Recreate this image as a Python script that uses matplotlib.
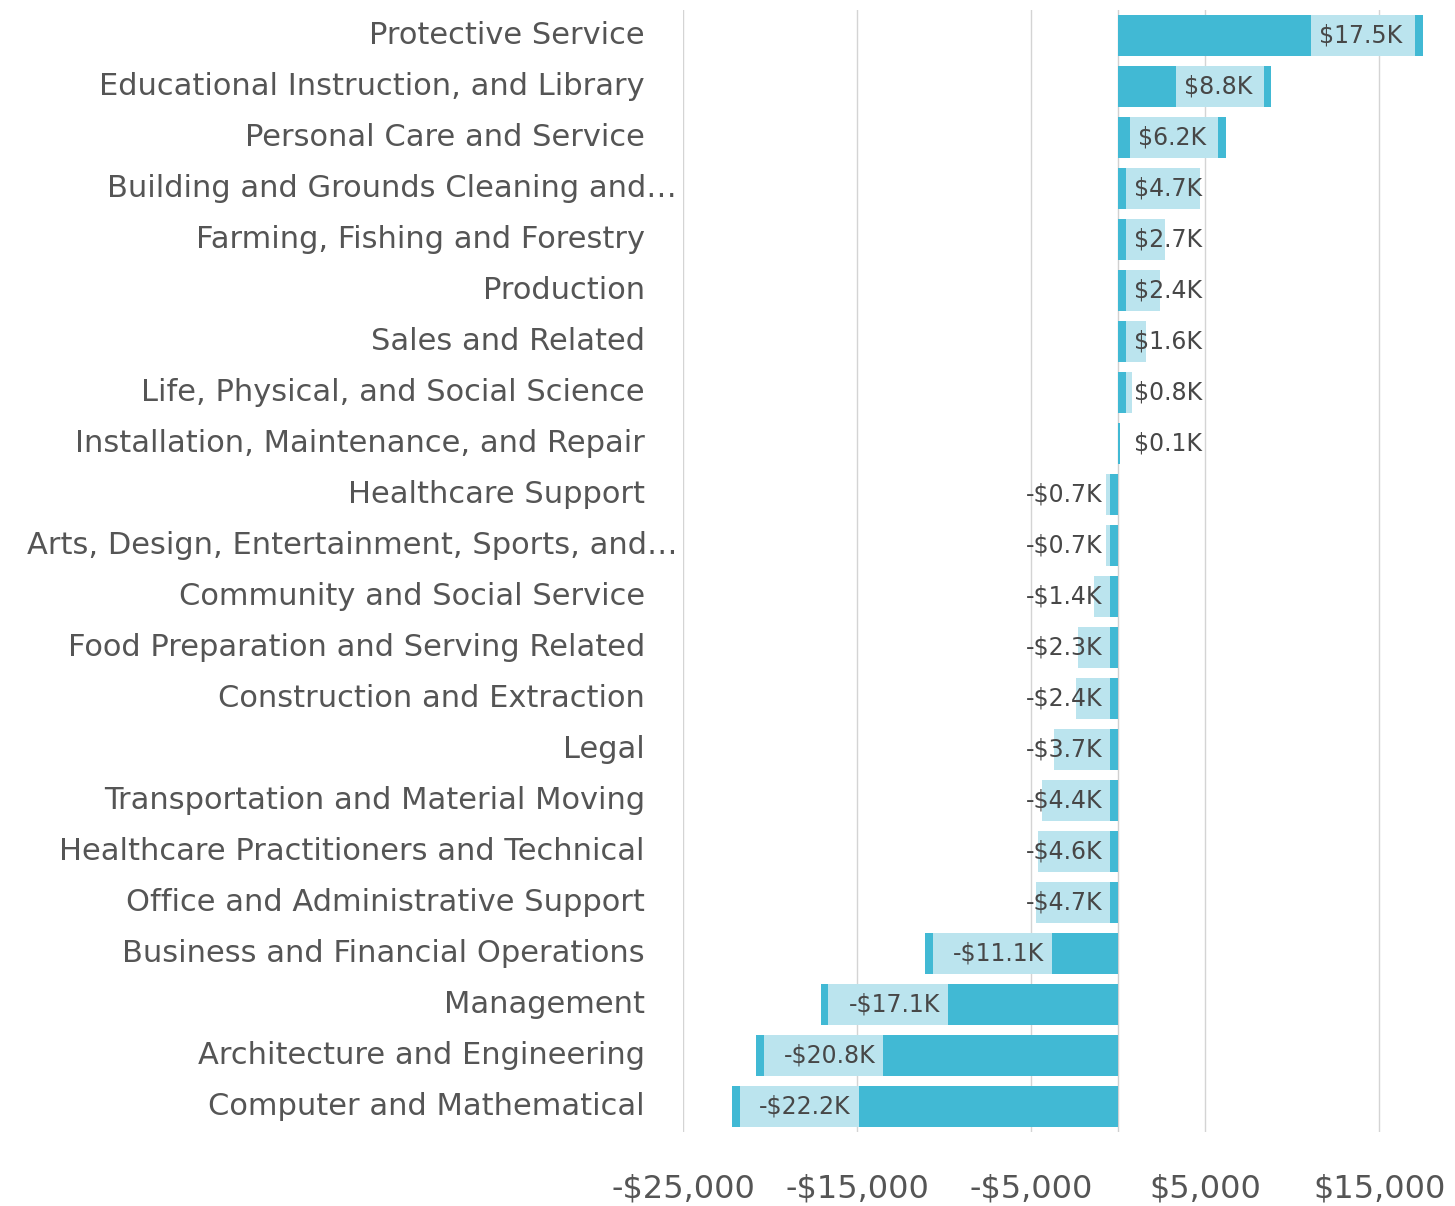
import matplotlib
matplotlib.use("Agg")
import matplotlib.pyplot as plt

plt.rcParams['font.family'] = ['DejaVu Sans']

categories = [
    "Protective Service",
    "Educational Instruction, and Library",
    "Personal Care and Service",
    "Building and Grounds Cleaning and\u2026",
    "Farming, Fishing and Forestry",
    "Production",
    "Sales and Related",
    "Life, Physical, and Social Science",
    "Installation, Maintenance, and Repair",
    "Healthcare Support",
    "Arts, Design, Entertainment, Sports, and\u2026",
    "Community and Social Service",
    "Food Preparation and Serving Related",
    "Construction and Extraction",
    "Legal",
    "Transportation and Material Moving",
    "Healthcare Practitioners and Technical",
    "Office and Administrative Support",
    "Business and Financial Operations",
    "Management",
    "Architecture and Engineering",
    "Computer and Mathematical",
]
values = [17500, 8800, 6200, 4700, 2700, 2400, 1600, 800, 100,
          -700, -700, -1400, -2300, -2400, -3700, -4400, -4600, -4700,
          -11100, -17100, -20800, -22200]
tick_values = [-25000, -15000, -5000, 5000, 15000]
tick_labels = ["-$25,000", "-$15,000", "-$5,000", "$5,000", "$15,000"]

DARK = "#41B9D4"
LIGHT = "#BBE4EE"
TXT = "#555555"
VTXT = "#474747"

fig = plt.figure(figsize=(14.55, 12.06), dpi=100)
ax = fig.add_axes([683/1455, 1 - 1132/1206, (1449-683)/1455, (1132-10)/1206])

n = len(categories)
ys = list(range(n))
ax.set_ylim(n - 0.5, -0.5)
ax.set_xlim(-25000, 19000)

for x in tick_values:
    ax.axvline(x, color="#d4d4d4", lw=1.0, zorder=0)
ax.axvline(0, color="#d0d0d0", lw=1.0, zorder=0)

cap = 450
strip = 450
pad = 450
h = 0.79

for y, v, cat in zip(ys, values, categories):
    s = 1 if v >= 0 else -1
    a = abs(v)
    lab = ("-" if v < 0 else "") + "$%.1fK" % (a / 1000)
    W = 550 + 900 * len(lab)
    ax.barh(y, v, height=h, color=DARK, edgecolor="none", zorder=2)
    if a - cap - W >= strip:
        b0, b1 = a - cap - W, a - cap
    else:
        b0, b1 = min(strip, a), a
    if b1 > b0:
        ax.barh(y, s * (b1 - b0), left=s * b0, height=h, color=LIGHT,
                edgecolor="none", zorder=3)
    lx = max(b0, strip) + pad
    ax.text(s * lx, y, lab, ha="left" if s > 0 else "right", va="center",
            fontsize=17, color=VTXT, zorder=4)
    off = -4.3 if cat.endswith("\u2026") else -27.4
    ax.annotate(cat, xy=(0, y), xycoords=ax.get_yaxis_transform(),
                xytext=(off, 0), textcoords="offset points",
                ha="right", va="center", fontsize=22, color=TXT)

ax.set_yticks([])
ax.set_xticks(tick_values)
ax.set_xticklabels(tick_labels, fontsize=23, color=TXT)
ax.tick_params(axis="x", length=0, pad=30)
for sp in ax.spines.values():
    sp.set_visible(False)

fig.savefig("out.png", dpi=100, facecolor="white")
